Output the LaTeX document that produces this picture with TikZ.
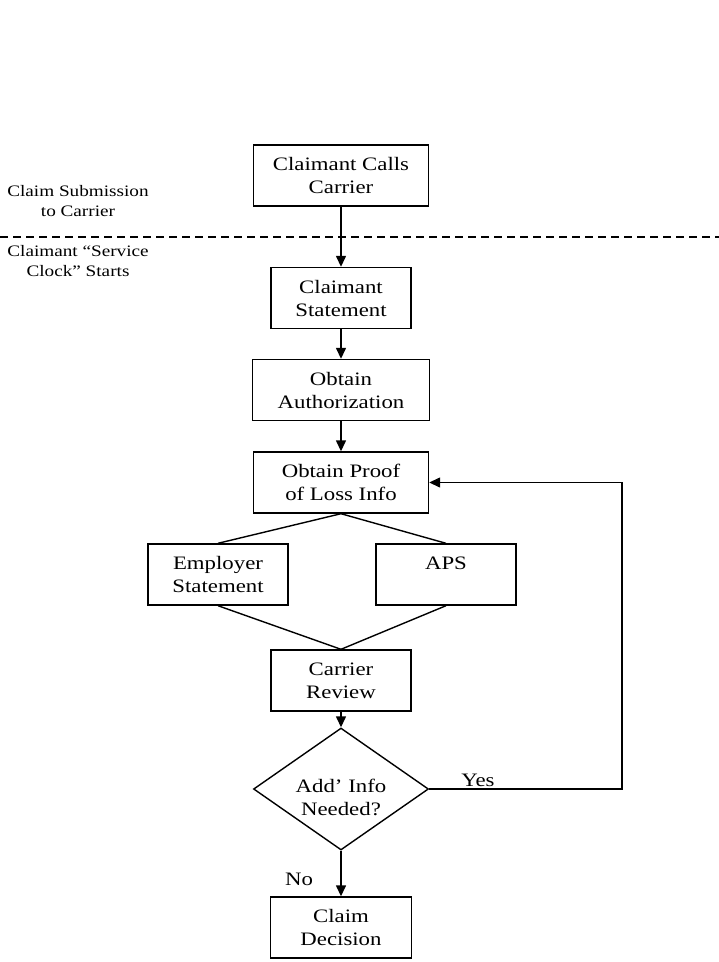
\documentclass[tikz,border=0pt]{standalone}
\usepackage{fontspec}
\setmainfont{Liberation Serif}[FakeStretch=1.2]
\usetikzlibrary{arrows.meta,shapes.geometric}
\begin{document}
\begin{tikzpicture}[x=1pt,y=-1pt,
  every node/.style={font=\fontsize{19}{23}\selectfont, inner sep=0pt},
  stepbox/.style={draw, line width=1.4pt, align=center, minimum height=61pt},
  decision/.style={draw, line width=1.4pt, diamond, shape aspect=1.43,
                   minimum width=175pt, minimum height=122pt},
  sidenote/.style={align=center, font=\fontsize{16}{20}\selectfont},
  flow/.style={line width=1.4pt, -{Triangle[length=11pt,width=10pt]}},
  link/.style={line width=1.4pt}]
\useasboundingbox (0,0) rectangle (719,962);

% phase separator and its captions
\coordinate (sepL) at (0,237);
\coordinate (sepR) at (719,237);
\draw[line width=1.2pt, dash pattern=on 8pt off 5pt] (sepL) -- (sepR);
\node[sidenote] (phase1) at (78,201.5) {Claim Submission\\to Carrier};
\node[sidenote] (phase2) at (78,261) {Claimant “Service\\Clock” Starts};

% process steps, all centred on one vertical axis
\node[stepbox, minimum width=175pt] (calls) at (341,175.5) {Claimant Calls\\Carrier};
\node[stepbox, minimum width=140pt] (stmt) at (341,298) {Claimant\\Statement};
\node[stepbox, minimum width=177pt] (auth) at (341,390) {Obtain\\Authorization};
\node[stepbox, minimum width=175pt] (proof) at (341,482.5) {Obtain Proof\\of Loss Info};
\node[stepbox, minimum width=140pt] (emp) at (218,574.5) {Employer\\Statement};
\node[stepbox, minimum width=140pt] (aps) at (446,574.5) {APS\\\phantom{S}};
\node[stepbox, minimum width=140pt] (review) at (341,680.5) {Carrier\\Review};
\node[decision] (need) at (341,789) {};
\node[align=center] (needtxt) at (341,797) {Add’ Info\\Needed?};
\node[stepbox, minimum width=141pt] (decide) at (341,927.5) {Claim\\Decision};

% connectors
\draw[flow] (calls) -- (stmt);
\draw[flow] (stmt) -- (auth);
\draw[flow] (auth) -- (proof);
\draw[link] (proof.south) -- (emp.north);
\draw[link] (proof.south) -- (aps.north);
\draw[link] (emp.south) -- (review.north);
\draw[link] (aps.south) -- (review.north);
\draw[flow] (review) -- (need);
\coordinate (loop) at (622,789);
\draw[flow] (need.east) -- (loop) |- (proof.east);
\draw[flow] (need.south) -- (decide.north);
\node (yes) at (478,780) {Yes};
\node (no) at (299,879) {No};
\end{tikzpicture}
\end{document}
